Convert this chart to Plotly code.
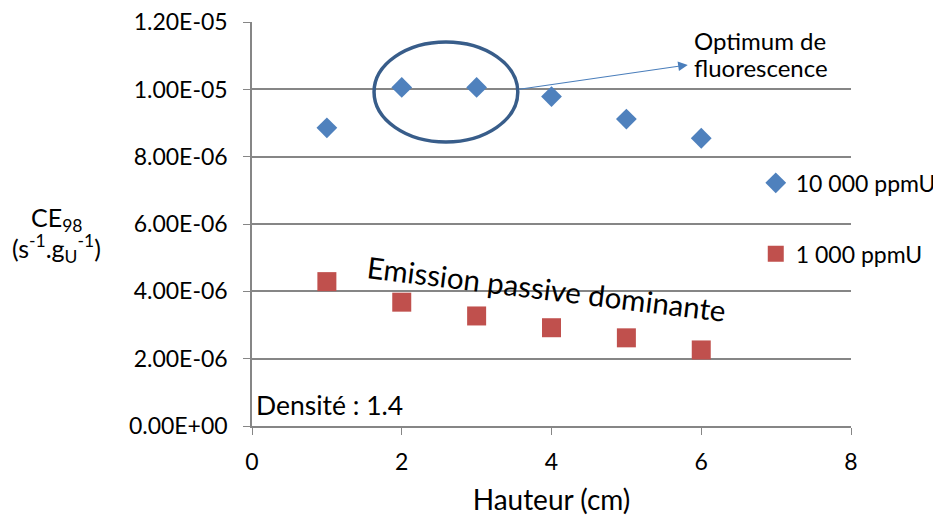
import plotly.graph_objects as go

hauteur = [1, 2, 3, 4, 5, 6]
ce_10000 = [8.86e-6, 1.006e-5, 1.006e-5, 9.79e-6, 9.12e-6, 8.55e-6]
ce_1000 = [4.29e-6, 3.68e-6, 3.27e-6, 2.92e-6, 2.62e-6, 2.26e-6]

y_ticks = [0, 2e-6, 4e-6, 6e-6, 8e-6, 1e-5, 1.2e-5]
y_labels = ["0.00E+00", "2.00E-06", "4.00E-06", "6.00E-06", "8.00E-06", "1.00E-05", "1.20E-05"]
x_ticks = [0, 2, 4, 6, 8]

FONT = "Lato"
grey = "#868686"

fig = go.Figure()

fig.add_trace(go.Scatter(
    x=hauteur, y=ce_10000, mode="markers", name="10 000 ppmU",
    marker=dict(symbol="diamond", size=16, color="#4F81BD"),
    legendgroup="a",
))
fig.add_trace(go.Scatter(
    x=hauteur, y=ce_1000, mode="markers", name="1 000 ppmU",
    marker=dict(symbol="square", size=19, color="#C0504D"),
    legendgroup="b",
))

# ellipse around the optimum
fig.add_shape(type="circle", xref="x", yref="y",
              x0=1.63, x1=3.55, y0=8.44e-6, y1=11.41e-6,
              line=dict(color="#385D8A", width=3.5))

fig.add_annotation(
    x=5.82, y=10.73e-6, ax=3.55, ay=1.0e-5,
    xref="x", yref="y", axref="x", ayref="y",
    text="", showarrow=True, arrowhead=2, arrowsize=1.6, arrowwidth=1.2,
    arrowcolor="#4A7EBB",
)
fig.add_annotation(
    x=5.87, y=11.47e-6, xref="x", yref="y", xanchor="left", yanchor="middle",
    text="Optimum de", showarrow=False,
    font=dict(family=FONT, size=24, color="black"),
)
fig.add_annotation(
    x=5.87, y=10.64e-6, xref="x", yref="y", xanchor="left", yanchor="middle",
    text="fluorescence", showarrow=False,
    font=dict(family=FONT, size=24, color="black"),
)
fig.add_annotation(
    x=3.93, y=4.1e-6, xref="x", yref="y",
    text="Emission passive dominante", showarrow=False, textangle=7,
    font=dict(family=FONT, size=29.5, color="black"),
)
fig.add_annotation(
    x=0.03, y=0.62e-6, xref="x", yref="y", xanchor="left", yanchor="middle",
    text="Densité : 1.4", showarrow=False,
    font=dict(family=FONT, size=26.5, color="black"),
)
# y axis title, two lines
fig.add_annotation(
    x=-0.327, y=0.512, xref="paper", yref="paper", xanchor="center", yanchor="middle",
    text="CE<sub>98</sub>", showarrow=False,
    font=dict(family=FONT, size=25, color="black"),
)
fig.add_annotation(
    x=-0.327, y=0.44, xref="paper", yref="paper", xanchor="center", yanchor="middle",
    text="(s<sup>-1</sup>.g<sub>U</sub><sup>-1</sup>)", showarrow=False,
    font=dict(family=FONT, size=25, color="black"),
)

fig.update_xaxes(
    range=[0, 8], tickvals=x_ticks, showgrid=False, zeroline=False,
    showline=True, linecolor=grey, linewidth=1.5,
    ticks="outside", ticklen=7, tickcolor=grey, ticklabelstandoff=8,
    tickfont=dict(family=FONT, size=23, color="black"),
    title=dict(text="Hauteur (cm)", font=dict(family=FONT, size=28, color="black"), standoff=24),
)
fig.update_yaxes(
    range=[0, 1.2005e-5], tickvals=y_ticks, ticktext=y_labels,
    showgrid=True, gridcolor=grey, gridwidth=1.5, zeroline=False,
    showline=True, linecolor=grey, linewidth=1.5,
    ticks="outside", ticklen=7, tickcolor=grey, ticklabelstandoff=11,
    ticklabeloverflow="allow",
    tickfont=dict(family=FONT, size=23, color="black"),
)

fig.update_layout(
    width=933, height=508,
    plot_bgcolor="white", paper_bgcolor="white",
    margin=dict(l=244, r=90, t=14, b=90, autoexpand=False),
    font=dict(family=FONT),
    legend=dict(
        x=0.841, y=0.655, xanchor="left", yanchor="top",
        font=dict(family=FONT, size=23, color="black"),
        bgcolor="rgba(0,0,0,0)", tracegroupgap=38, itemwidth=30,
    ),
)

fig.write_html("out.html")
